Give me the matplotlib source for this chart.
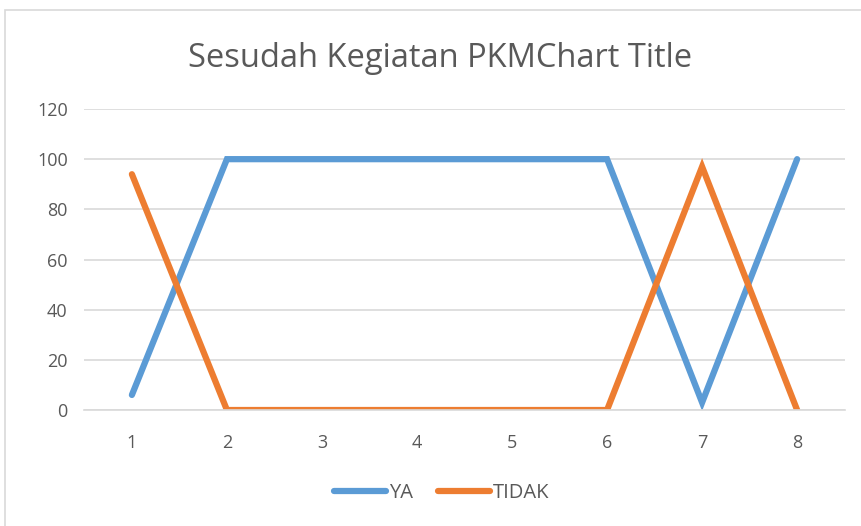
import matplotlib
matplotlib.use("Agg")
import matplotlib.pyplot as plt
from matplotlib.patches import Rectangle

categories = ["1", "2", "3", "4", "5", "6", "7", "8"]
ya = [6, 100, 100, 100, 100, 100, 3, 100]
tidak = [94, 0, 0, 0, 0, 0, 97, 0]
title = "Sesudah Kegiatan PKMChart Title"

plt.rcParams['font.family'] = ['Open Sans', 'DejaVu Sans']

fig = plt.figure(figsize=(8.61, 5.26), dpi=100)
ax = fig.add_axes([0.098, 0.2205, 0.883, 0.5723])

x = list(range(len(categories)))
ax.plot(x, ya, color="#5b9bd5", lw=4.5, solid_capstyle="round", solid_joinstyle="miter", label="YA")
ax.plot(x, tidak, color="#ed7d31", lw=4.5, solid_capstyle="round", solid_joinstyle="miter", label="TIDAK")

ax.set_xlim(-0.5, len(categories) - 0.5)
ax.set_ylim(0, 120)
ax.set_yticks(range(0, 121, 20))
ax.set_xticks(x)
ax.set_xticklabels(categories)
ax.grid(axis="y", color="#d9d9d9", lw=1.2)
ax.set_axisbelow(True)
for s in ["top", "right", "left"]:
    ax.spines[s].set_visible(False)
ax.spines["bottom"].set_color("#d9d9d9")
ax.spines["bottom"].set_linewidth(1.2)
ax.tick_params(axis="y", length=0, labelsize=13, colors="#595959", pad=12)
ax.tick_params(axis="x", length=0, labelsize=13, colors="#595959", pad=17)

fig.text(0.511, 0.888, title, ha="center", va="center", fontsize=23.5, color="#595959")

fig.legend(loc="center", bbox_to_anchor=(0.513, 0.063), ncol=2, frameon=False,
           fontsize=14.5, labelcolor="#595959", handlelength=2.6, handletextpad=0.15,
           columnspacing=1.2)

fig.patches.append(Rectangle((5 / 861, -0.01), 1.0, 1 - 10 / 526 + 0.01,
                             transform=fig.transFigure, fill=False,
                             edgecolor="#d9d9d9", lw=1.2))

fig.savefig("out.png", dpi=100)
